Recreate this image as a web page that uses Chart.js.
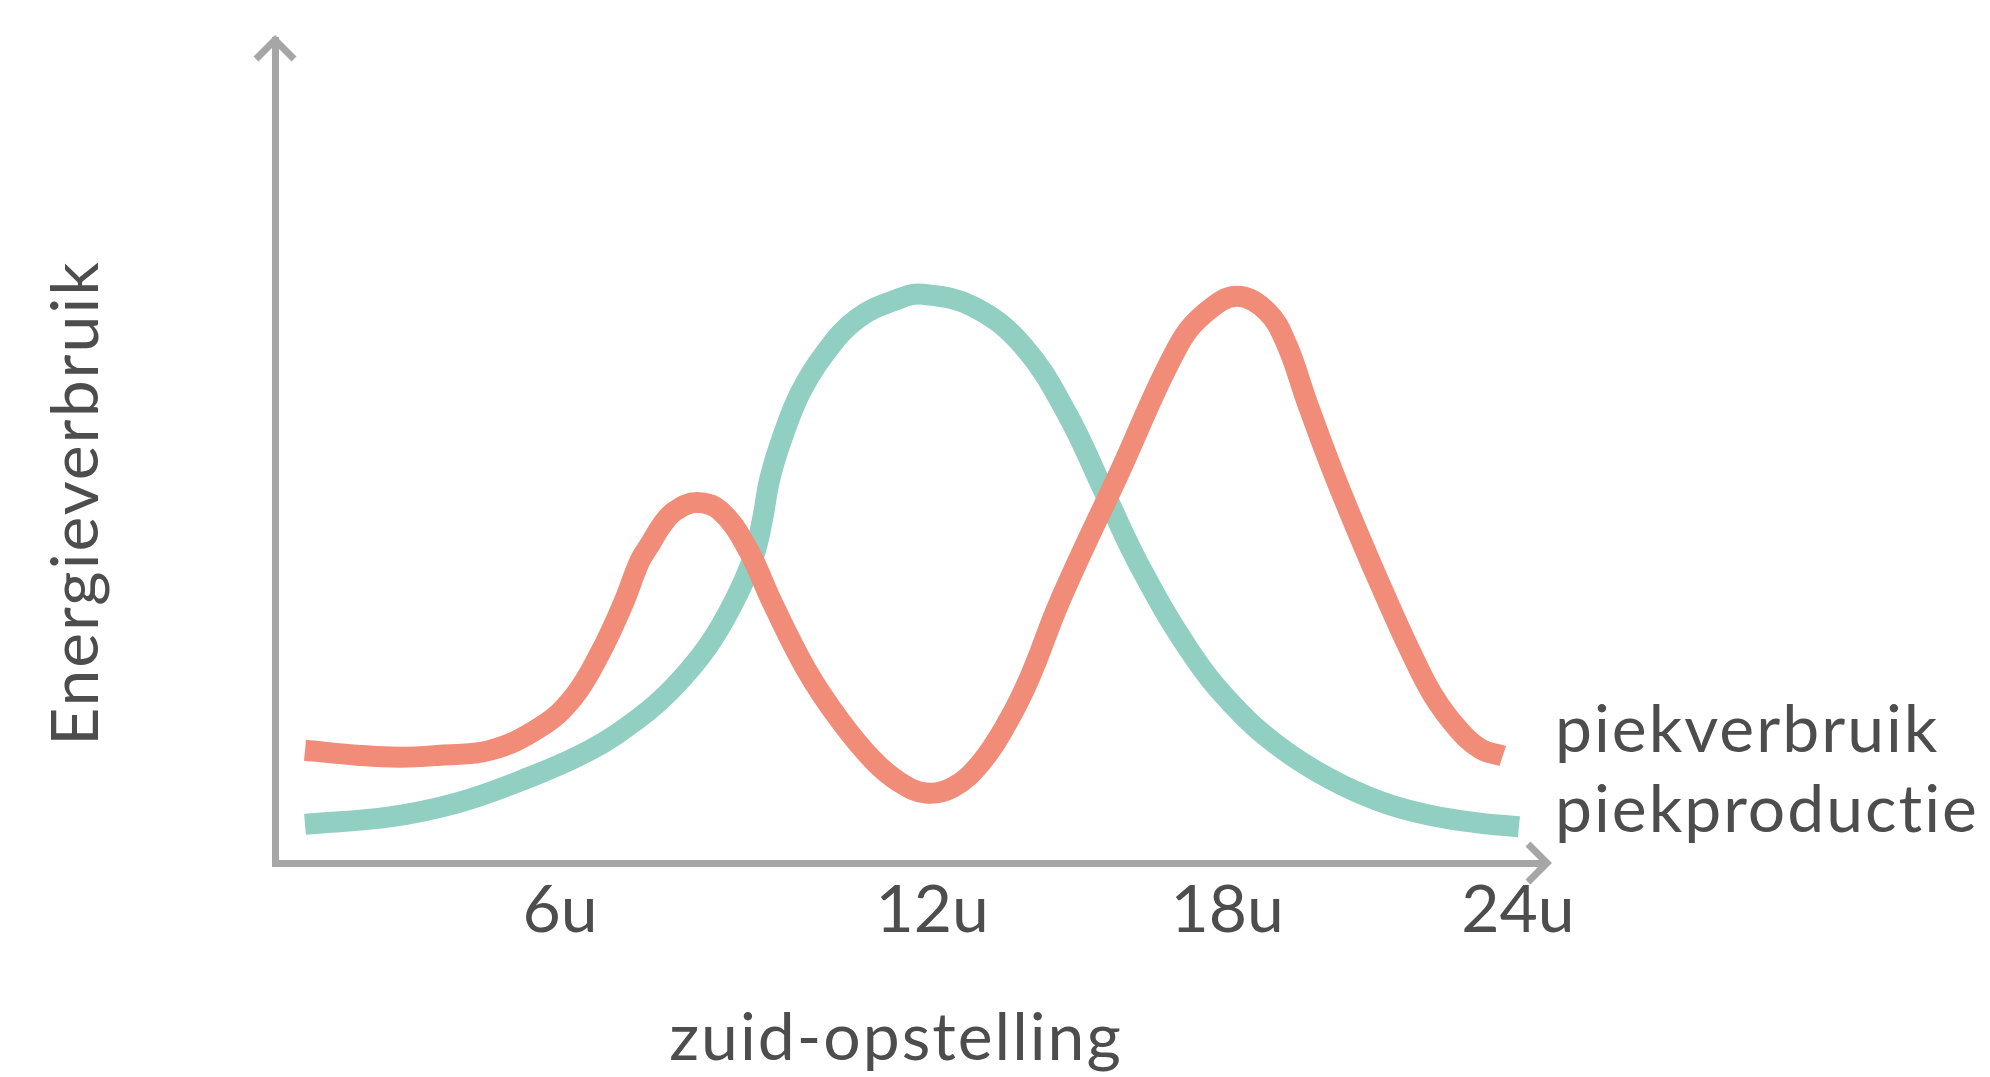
<!DOCTYPE html>
<html>
<head>
<meta charset="utf-8">
<title>Energieverbruik - zuid-opstelling</title>
<script src="https://cdn.jsdelivr.net/npm/chart.js@4.4.1/dist/chart.umd.min.js"></script>
<style>
  html, body { margin: 0; padding: 0; background: #fff; }
  canvas { display: block; }
</style>
</head>
<body>
<canvas id="chart" width="1990" height="1077"></canvas>
<script>
// hour of the day -> relative energy level (0..100)
const verbruikHours = [0, 1.03, 1.88, 2.67, 3.66, 4.65, 5.3, 5.83, 6.29, 6.62, 6.82, 7.06, 7.32, 7.75,
  8.21, 8.74, 9.25, 9.92, 10.58, 11.23, 11.76, 12.28, 12.81, 13.35, 13.88, 14.33, 14.93, 16.09,
  17.26, 17.83, 18.43, 19.02, 19.41, 19.81, 20.32, 20.86, 21.31, 21.85, 22.3, 22.78, 23.23, 23.68];
const verbruikValues = [13.7, 13.1, 12.85, 13.1, 13.7, 16.5, 20.1, 25.45, 31.5, 36.7, 38.7, 41.1, 42.8, 43.8,
  42.8, 38.3, 31.5, 23.4, 17.3, 12.5, 9.8, 8.5, 9.2, 12.1, 17.0, 22.55, 31.9, 47.3,
  62.8, 67.0, 68.85, 67.0, 63.0, 56.0, 47.6, 39.5, 33.1, 25.8, 20.4, 16.4, 13.9, 13.0];

const productieHours = [0, 1.68, 3.01, 4.31, 5.63, 6.62, 7.28, 7.95, 8.46, 8.86, 9.04, 9.19, 9.45, 9.79,
  10.24, 10.91, 11.76, 12.22, 13.21, 14.2, 15.07, 15.82, 16.51, 17.5, 18.35, 19.28, 20.27,
  21.25, 22.24, 23.23, 24.0];
const productieValues = [4.7, 5.6, 7.3, 10.1, 13.7, 17.7, 21.3, 26.2, 31.5, 37.1, 41.6, 46.7, 51.9, 57.1,
  61.6, 66.1, 68.6, 69.1, 67.6, 62.8, 54.55, 44.85, 36.0, 25.7, 19.15, 14.05, 10.2,
  7.5, 5.8, 4.85, 4.4];

const seriesLabels = ['piekverbruik', 'piekproductie'];
const tickLabels = ['6u', '12u', '18u', '24u'];
const tickHours = [5.04, 12.4, 18.23, 23.98]; // where the labels sit on the drawn axis
const yTitle = 'Energieverbruik';
const xTitle = 'zuid-opstelling';

const axisColor = '#a6a6a6';
const textColor = '#4d4d4d';
const fontFamily = 'Lato, "Open Sans", sans-serif';

const toPoints = (xs, ys) => xs.map((x, i) => ({ x: x, y: ys[i] }));

// arrow heads, axis titles and the line labels on the right
const decorations = {
  id: 'decorations',
  afterDraw(chart) {
    const ctx = chart.ctx;
    const a = chart.chartArea;
    ctx.save();
    ctx.strokeStyle = axisColor;
    ctx.lineWidth = 7;
    ctx.lineJoin = 'miter';
    ctx.beginPath();
    ctx.moveTo(a.left - 19, a.top + 19);
    ctx.lineTo(a.left, a.top);
    ctx.lineTo(a.left + 19, a.top + 19);
    ctx.moveTo(a.right - 19, a.bottom - 19);
    ctx.lineTo(a.right, a.bottom);
    ctx.lineTo(a.right - 19, a.bottom + 19);
    ctx.stroke();

    ctx.fillStyle = textColor;
    ctx.font = '66px ' + fontFamily;
    ctx.letterSpacing = '2px';
    ctx.textBaseline = 'alphabetic';

    ctx.textAlign = 'center';
    ctx.fillText(xTitle, a.left + 621, a.bottom + 197);

    ctx.save();
    ctx.translate(a.left - 177, a.bottom - 360);
    ctx.rotate(-Math.PI / 2);
    ctx.fillText(yTitle, 0, 0);
    ctx.restore();

    ctx.textAlign = 'left';
    chart.data.datasets.forEach((ds, i) => {
      ctx.fillText(ds.label, a.right + 8, a.bottom - 111 + i * 80);
    });
    ctx.restore();
  }
};

new Chart(document.getElementById('chart'), {
  type: 'line',
  data: {
    datasets: [{
      label: seriesLabels[0],
      data: toPoints(verbruikHours, verbruikValues),
      borderColor: '#f08c78',
      borderWidth: 21,
      borderCapStyle: 'butt',
      borderJoinStyle: 'round',
      tension: 0.4,
      pointRadius: 0,
      fill: false
    }, {
      label: seriesLabels[1],
      data: toPoints(productieHours, productieValues),
      borderColor: '#92cfc3',
      borderWidth: 21,
      borderCapStyle: 'butt',
      borderJoinStyle: 'round',
      tension: 0.4,
      pointRadius: 0,
      fill: false
    }]
  },
  options: {
    responsive: false,
    devicePixelRatio: 1,
    animation: false,
    layout: { padding: { left: 275, top: 40, right: 443, bottom: 125 } },
    plugins: {
      legend: { display: false },
      tooltip: { enabled: false }
    },
    scales: {
      x: {
        type: 'linear',
        min: -0.593,
        max: 24.555,
        grid: { display: false },
        border: { display: true, color: axisColor, width: 7 },
        afterBuildTicks: scale => {
          scale.ticks = tickHours.map(v => ({ value: v }));
        },
        afterFit: scale => { scale.height = 89; },
        ticks: {
          autoSkip: false,
          maxRotation: 0,
          padding: 0,
          color: textColor,
          font: { family: fontFamily, size: 66, lineHeight: 1.2 },
          callback: (value, index) => tickLabels[index]
        }
      },
      y: {
        min: 0,
        max: 100,
        grid: { display: false },
        border: { display: true, color: axisColor, width: 7 },
        afterFit: scale => { scale.width = 0; },
        ticks: { display: false }
      }
    }
  },
  plugins: [decorations]
});
</script>
</body>
</html>
